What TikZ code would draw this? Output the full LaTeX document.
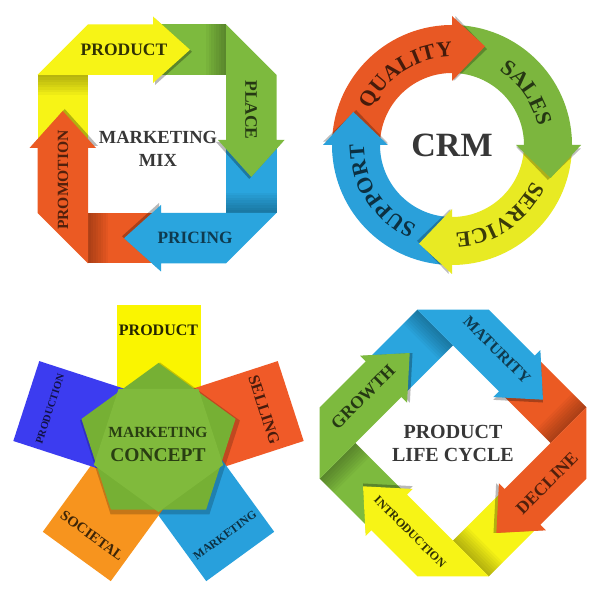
\documentclass[tikz,border=0pt]{standalone}
\usepackage{fontspec}
\setmainfont{Liberation Serif}
\usetikzlibrary{decorations.text}
\definecolor{qy}{RGB}{247,244,22}
\definecolor{qg}{RGB}{125,186,62}
\definecolor{qb}{RGB}{42,165,222}
\definecolor{qo}{RGB}{235,90,35}
\definecolor{ry}{RGB}{232,234,35}
\definecolor{rg}{RGB}{124,182,62}
\definecolor{rb}{RGB}{42,160,218}
\definecolor{ro}{RGB}{232,88,36}
\definecolor{py}{RGB}{250,245,0}
\definecolor{po}{RGB}{240,90,40}
\definecolor{pb}{RGB}{40,160,220}
\definecolor{por}{RGB}{247,148,30}
\definecolor{pv}{RGB}{60,60,240}
\definecolor{pgA}{RGB}{118,176,52}
\definecolor{pgB}{RGB}{128,186,60}
\definecolor{ctr}{RGB}{55,55,55}
\newcommand\myfs[2]{\fontsize{#1}{#2}\selectfont\bfseries}
\newcommand\bandtail[1]{%
  \fill[#1] (-119.5,0) rectangle (-69,69);
  \foreach \k in {1,...,8}{\fill[black,opacity=0.035] (-119.5,{69-2.5*\k}) rectangle (-69,69);}
}
\newcommand\bandhead[1]{%
  \fill[black,opacity=0.28] (-2,125.5) -- (35,92.25) -- (-2,59) -- cycle;
  \fill[#1] (-119.5,69) -- (-69,119.5) -- (-4,119.5) -- (-4,127.5) -- (33,94.25) -- (-4,61) -- (-4,69) -- cycle;
}
\newcommand\frameq[5]{%
  \foreach \r/\c in {0/#2,-90/#3,-180/#4,90/#5}{\begin{scope}[rotate={\r+#1}]\bandtail{\c}\end{scope}}
  \foreach \r/\c in {0/#2,-90/#3,-180/#4,90/#5}{\begin{scope}[rotate={\r+#1}]\bandhead{\c}\end{scope}}
}
\tikzset{
  bandtext/.style={inner sep=0pt}
}
\begin{document}
\begin{tikzpicture}[x=1pt,y=1pt]
\useasboundingbox (0,0) rectangle (600,600);
\fill[white] (0,0) rectangle (600,600);

% ---------- Quadrant 1: marketing mix ----------
\begin{scope}[shift={(157,456)}]
  \frameq{0}{qy}{qg}{qb}{qo}
\end{scope}
\node[bandtext,font=\myfs{17.5}{17.5},text=qy!20!black] (mxproduct) at (124,550) {PRODUCT};
\node[bandtext,font=\myfs{17.5}{17.5},text=qg!30!black,rotate=-90] (mxplace) at (251,490) {PLACE};
\node[bandtext,font=\myfs{17.3}{17.3},text=qb!35!black] (mxpricing) at (195,362) {PRICING};
\node[bandtext,font=\myfs{15.6}{15.6},text=qo!35!black,rotate=90] (mxpromotion) at (63,420) {PROMOTION};
\node[font=\myfs{18.5}{23},text=ctr,align=center] (mxcenter) at (158,451) {MARKETING\\MIX};

% ---------- Quadrant 2: CRM ring ----------
\begin{scope}[shift={(452,455)}]
  \foreach \s/\e/\c in {180/90/ro,90/0/rg,0/-90/ry,-90/-180/rb}{
    \fill[\c] ({\s-3}:120) arc[start angle={\s-3}, end angle={\e-1}, radius=120] -- ({\e-1}:72) arc[start angle={\e-1}, end angle={\s-3}, radius=72] -- cycle;
  }
  \foreach \e/\c in {90/ro,0/rg,-90/ry,-180/rb}{
    \fill[black,opacity=0.25] ({\e-1.5}:129) -- ({\e-20}:102) -- ({\e-1.5}:64) -- cycle;
    \fill[\c] (\e:129) -- ({\e-18.5}:104) -- (\e:64) -- cycle;
  }
  \path[decorate,decoration={text along path,text align=center,text={|\myfs{22}{22}\color{ro!30!black}|QUALITY}}] (183:88) arc[start angle=183,end angle=63,radius=88];
  \path[decorate,decoration={text along path,text align=center,text={|\myfs{22}{22}\color{rg!30!black}|SALES}}] (95:88) arc[start angle=95,end angle=-25,radius=88];
  \path[decorate,decoration={text along path,text align=center,text={|\myfs{22}{22}\color{ry!25!black}|SERVICE}}] (4:88) arc[start angle=4,end angle=-116,radius=88];
  \path[decorate,decoration={text along path,text align=center,text={|\myfs{22}{22}\color{rb!30!black}|SUPPORT}}] (273:88) arc[start angle=273,end angle=153,radius=88];
\end{scope}
\node[font=\myfs{34}{34},text=ctr] (crm) at (452,455) {CRM};

% ---------- Quadrant 3: marketing concept ----------
\begin{scope}[shift={(158.5,156)}]
  \foreach \r/\c in {0/py,-72/po,-144/pb,144/por,72/pv}{
    \fill[\c,rotate=\r] (-42,30) rectangle (42,139);
  }
  \begin{scope}[shift={(1.5,-2.5)}]
    \fill[black,opacity=0.2] (90:84) -- (18:84) -- (-54:84) -- (-126:84) -- (162:84) -- cycle;
  \end{scope}
  \fill[pgA] (90:81) -- (18:81) -- (-54:81) -- (-126:81) -- (162:81) -- cycle;
  \fill[pgB] (-90:68) -- (-18:68) -- (54:68) -- (126:68) -- (198:68) -- cycle;
  \node[bandtext,font=\myfs{16}{16},text=py!15!black] (cproduct) at (90:114) {PRODUCT};
  \node[bandtext,font=\myfs{16}{16},text=po!30!black,rotate=-72] (cselling) at (18:111) {SELLING};
  \node[bandtext,font=\myfs{11.7}{11.7},text=pb!30!black,rotate=36] (cmarketing) at (-54:113) {MARKETING};
  \node[bandtext,font=\myfs{14.5}{14.5},text=por!25!black,rotate=-36] (csocietal) at (-126:113) {SOCIETAL};
  \node[bandtext,font=\myfs{10.6}{10.6},text=pv!30!black,rotate=72] (cproduction) at (162:114) {PRODUCTION};
\end{scope}
\node[font=\myfs{15.5}{15.5},text=pgA!35!black] (cmark) at (158,168) {MARKETING};
\node[font=\myfs{19.5}{19.5},text=pgA!35!black] (cconcept) at (158,145) {CONCEPT};

% ---------- Quadrant 4: product life cycle ----------
\begin{scope}[shift={(453,157)}]
  \frameq{-45}{qb}{qo}{qy}{qg}
\end{scope}
\node[bandtext,font=\myfs{17.5}{17.5},text=qg!30!black,rotate=45] (lgrowth) at (363,203) {GROWTH};
\node[bandtext,font=\myfs{16}{16},text=qb!35!black,rotate=-45] (lmaturity) at (497,250) {MATURITY};
\node[bandtext,font=\myfs{17.5}{17.5},text=qo!35!black,rotate=45] (ldecline) at (547,117) {DECLINE};
\node[bandtext,font=\myfs{12}{12},text=qy!20!black,rotate=-45] (lintro) at (410,68) {INTRODUCTION};
\node[font=\myfs{20}{23},text=ctr,align=center] (lcenter) at (453,157) {PRODUCT\\LIFE CYCLE};
\end{tikzpicture}
\end{document}
